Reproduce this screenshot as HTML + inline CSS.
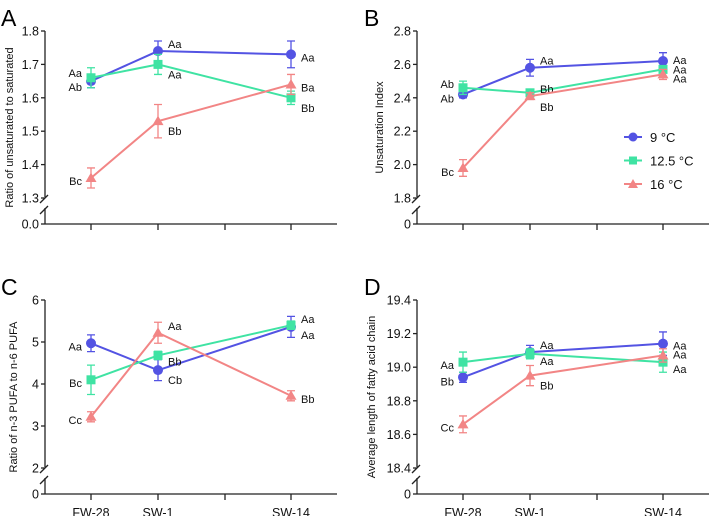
<!DOCTYPE html>
<html><head><meta charset="utf-8"><style>
body{margin:0;background:#fff;}
svg{font-family:"Liberation Sans",sans-serif;}
</style></head><body>
<svg id="c" width="709" height="516" xmlns="http://www.w3.org/2000/svg"></svg>
<script>
const categories=["FW-28","SW-1","SW-14"];
const seriesNames=["9 \u00B0C","12.5 \u00B0C","16 \u00B0C"];
// Panel A
const aBlue=[1.65,1.74,1.73], aBlueErr=[0.02,0.03,0.04];
const aGreen=[1.66,1.70,1.60], aGreenErr=[0.03,0.03,0.02];
const aPink=[1.36,1.53,1.64], aPinkErr=[0.03,0.05,0.03];
const aTicks=[1.3,1.4,1.5,1.6,1.7,1.8];
const aLabels=[["Ab","Aa","Aa"],["Aa","Aa","Bb"],["Bc","Bb","Ba"]];
// Panel B
const bBlue=[2.42,2.58,2.62], bBlueErr=[0.02,0.05,0.05];
const bGreen=[2.46,2.43,2.57], bGreenErr=[0.04,0.02,0.02];
const bPink=[1.98,2.41,2.54], bPinkErr=[0.05,0.02,0.03];
const bTicks=[1.8,2.0,2.2,2.4,2.6,2.8];
const bLabels=[["Ab","Aa","Aa"],["Ab","Bb","Aa"],["Bc","Bb","Aa"]];
// Panel C
const cBlue=[4.97,4.33,5.36], cBlueErr=[0.2,0.25,0.25];
const cGreen=[4.1,4.68,5.4], cGreenErr=[0.35,0.1,0.1];
const cPink=[3.22,5.22,3.72], cPinkErr=[0.12,0.25,0.12];
const cTicks=[2,3,4,5,6];
const cLabels=[["Aa","Cb","Aa"],["Bc","Bb","Aa"],["Cc","Aa","Bb"]];
// Panel D
const dBlue=[18.94,19.09,19.14], dBlueErr=[0.03,0.04,0.07];
const dGreen=[19.03,19.08,19.03], dGreenErr=[0.06,0.03,0.06];
const dPink=[18.66,18.95,19.07], dPinkErr=[0.05,0.06,0.04];
const dTicks=[18.4,18.6,18.8,19.0,19.2,19.4];
const dLabels=[["Bb","Aa","Aa"],["Aa","Aa","Aa"],["Cc","Bb","Aa"]];

const colors=["#5353e3","#3fe3a3","#f28585"];
const NS="http://www.w3.org/2000/svg";
const svg=document.getElementById("c");
function mk(tag,attrs,parent){const e=document.createElementNS(NS,tag);for(const k in attrs)e.setAttribute(k,attrs[k]);(parent||svg).appendChild(e);return e;}

const offA=[[[-9,6],[10,-7],[10,3]],[[-9,-5],[10,10],[10,10]],[[-9,3],[10,10],[10,3]]];
const offB=[[[-9,4],[10,-7],[10,-1]],[[-9,-4],[10,-4],[10,0]],[[-9,4],[10,11],[10,4]]];
const offC=[[[-9,3],[10,10],[10,8]],[[-9,3],[10,6],[10,-6]],[[-9,3],[10,-7],[10,3]]];
const offD=[[[-9,4],[10,-7],[10,2]],[[-9,3],[10,7],[10,7]],[[-9,3],[10,10],[10,-1]]];

function panel(o){
  const g=mk("g",{});
  
  
  const lo=o.ticks[0], hi=o.ticks[o.ticks.length-1];
  const yS=v=>o.yBreak-(v-lo)/(hi-lo)*(o.yBreak-o.yTop);
  const xS=i=>o.x0+[46,113,246][i];
  const L=mk("text",{x:o.letterX,y:o.yTop-5,"font-size":23},g);L.textContent=o.letter;
  
  const ax=mk("g",{stroke:"#222","stroke-width":1.3,fill:"none"},g);
  
  mk("line",{x1:o.x0,y1:o.yTop,x2:o.x0,y2:o.yBreak-1},ax);
  mk("line",{x1:o.x0,y1:o.yBreak+10,x2:o.x0,y2:o.yZero},ax);
  mk("line",{x1:o.x0-5,y1:o.yBreak+5,x2:o.x0+3,y2:o.yBreak-3},ax);
  mk("line",{x1:o.x0-5,y1:o.yBreak+16,x2:o.x0+3,y2:o.yBreak+8},ax);
  o.ticks.forEach(t=>{mk("line",{x1:o.x0-4,y1:yS(t),x2:o.x0,y2:yS(t)},ax);
    const tt=mk("text",{x:o.x0-6,y:yS(t)+4.5,"font-size":12.5,"text-anchor":"end",fill:"#111",stroke:"none"},g);tt.textContent=o.fmt(t);
    });
  mk("line",{x1:o.x0-4,y1:o.yZero,x2:o.x0,y2:o.yZero},ax);
  const z=mk("text",{x:o.x0-6,y:o.yZero+4.5,"font-size":12.5,"text-anchor":"end",fill:"#111"},g);z.textContent=o.zero;
  
  const xa=mk("g",{stroke:"#222","stroke-width":1.3},g);
  
  mk("line",{x1:o.x0,y1:o.yZero,x2:o.x0+292,y2:o.yZero},xa);
  [46,113,180,246].forEach(d=>mk("line",{x1:o.x0+d,y1:o.yZero,x2:o.x0+d,y2:o.yZero+6},xa));
  if(o.xlabels){categories.forEach((c,i)=>{const t=mk("text",{x:xS(i),y:o.yZero+23,"font-size":12.5,"text-anchor":"middle",fill:"#111"},g);t.textContent=c;
    });}
  const yt=mk("text",{x:0,y:0,"font-size":11,"text-anchor":"middle",fill:"#111",transform:`translate(${o.titleX},${(o.yTop+o.yZero)/2}) rotate(-90)`},g);yt.textContent=o.title;
  
  o.series.forEach((s,si)=>{
    const sg=mk("g",{},g);
    
    const col=colors[si];
    mk("polyline",{points:s.v.map((v,i)=>xS(i)+","+yS(v)).join(" "),fill:"none",stroke:col,"stroke-width":2},sg);
    s.v.forEach((v,i)=>{
      const x=xS(i),y=yS(v),e=s.e[i];
      const eb=mk("path",{d:`M${x},${yS(v-e)}V${yS(v+e)}M${x-4},${yS(v-e)}H${x+4}M${x-4},${yS(v+e)}H${x+4}`,stroke:col,"stroke-width":1.3,fill:"none"},sg);
      
      let m;
      if(si===0)m=mk("circle",{cx:x,cy:y,r:5,fill:col},sg);
      else if(si===1)m=mk("rect",{x:x-4.5,y:y-4.5,width:9,height:9,fill:col},sg);
      else m=mk("polygon",{points:`${x},${y-5.5} ${x+5.5},${y+4} ${x-5.5},${y+4}`,fill:col},sg);
      
      const off=o.off[si][i];
      const lt=mk("text",{x:x+off[0],y:y+off[1]+4,"font-size":11,"text-anchor":off[0]<0?"end":"start",fill:"#111"},sg);lt.textContent=o.labels[si][i];
      
    });
  });
}
const f1=t=>t.toFixed(1), f0=t=>String(t);
panel({name:"panel-a",letter:"A",letterX:1,x0:45,yTop:31,yBreak:198,yZero:224,ticks:aTicks,fmt:f1,zero:"0.0",title:"Ratio of unsaturated to saturated",titleX:13,xlabels:false,
  series:[{v:aBlue,e:aBlueErr},{v:aGreen,e:aGreenErr},{v:aPink,e:aPinkErr}],labels:aLabels,off:offA});
panel({name:"panel-b",letter:"B",letterX:364,x0:417,yTop:31,yBreak:198,yZero:224,ticks:bTicks,fmt:f1,zero:"0",title:"Unsaturation Index",titleX:383,xlabels:false,
  series:[{v:bBlue,e:bBlueErr},{v:bGreen,e:bGreenErr},{v:bPink,e:bPinkErr}],labels:bLabels,off:offB});
panel({name:"panel-c",letter:"C",letterX:1,x0:45,yTop:300,yBreak:468,yZero:494,ticks:cTicks,fmt:f0,zero:"0",title:"Ratio of n-3 PUFA to n-6 PUFA",titleX:17,xlabels:true,
  series:[{v:cBlue,e:cBlueErr},{v:cGreen,e:cGreenErr},{v:cPink,e:cPinkErr}],labels:cLabels,off:offC});
panel({name:"panel-d",letter:"D",letterX:364,x0:417,yTop:300,yBreak:468,yZero:494,ticks:dTicks,fmt:f1,zero:"0",title:"Average length of fatty acid chain",titleX:375,xlabels:true,
  series:[{v:dBlue,e:dBlueErr},{v:dGreen,e:dGreenErr},{v:dPink,e:dPinkErr}],labels:dLabels,off:offD});
const lg=mk("g",{});

seriesNames.forEach((n,i)=>{
  const y=137+i*23.5, x=633, col=colors[i];
  const eg=mk("g",{},lg);
  
  mk("line",{x1:x-9,y1:y,x2:x+9,y2:y,stroke:col,"stroke-width":2},eg);
  if(i===0)mk("circle",{cx:x,cy:y,r:4.5,fill:col},eg);
  else if(i===1)mk("rect",{x:x-4,y:y-4,width:8,height:8,fill:col},eg);
  else mk("polygon",{points:`${x},${y-5} ${x+5},${y+4} ${x-5},${y+4}`,fill:col},eg);
  const t=mk("text",{x:650,y:y+5,"font-size":13,fill:"#111"},eg);t.textContent=n;
});
</script>
</body></html>
